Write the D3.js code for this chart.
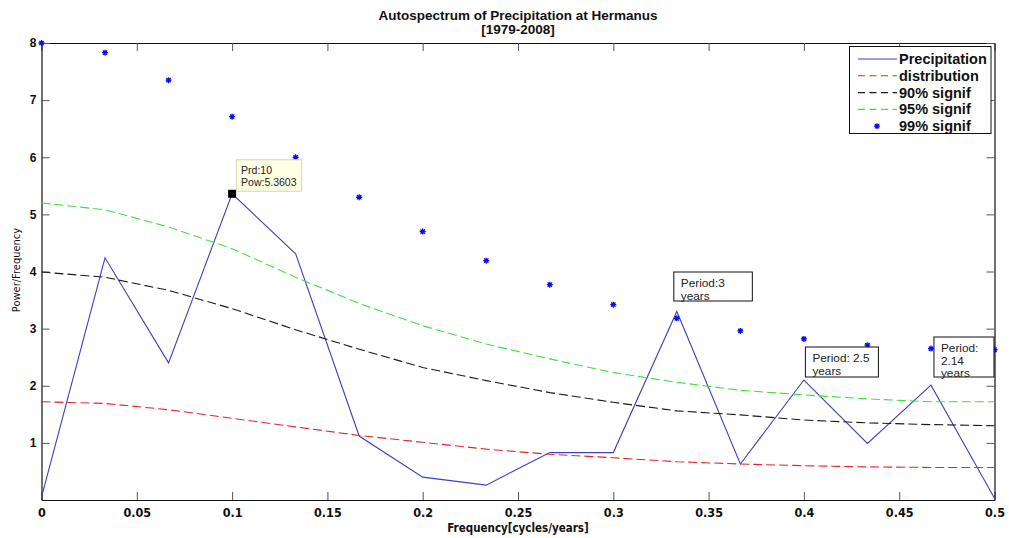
<!DOCTYPE html>
<html>
<head>
<meta charset="utf-8">
<script src="https://cdn.jsdelivr.net/npm/d3@7/dist/d3.min.js"></script>
<style>
  html, body { margin: 0; padding: 0; background: #fff; }
  svg { display: block; }
</style>
</head>
<body>
<svg id="chart" width="1009" height="538"></svg>
<script>
// Frequencies (cycles/year) for a 30-year record: k/30, k = 0..15
const frequency = [0, 1/30, 2/30, 3/30, 4/30, 5/30, 6/30, 7/30, 8/30, 9/30, 10/30, 11/30, 12/30, 13/30, 14/30, 15/30];

// Autospectrum of precipitation
const precipitation = [0.05, 4.24, 2.40, 5.3603, 4.31, 1.12, 0.40, 0.26, 0.83, 0.83, 3.30, 0.63, 2.10, 0.99, 2.01, 0.03];

// Red-noise background and significance levels
const distribution = [1.72, 1.69, 1.58, 1.43, 1.28, 1.13, 1.01, 0.89, 0.80, 0.74, 0.67, 0.63, 0.60, 0.58, 0.57, 0.57];
const signif90 = [3.99, 3.90, 3.67, 3.35, 2.98, 2.64, 2.32, 2.09, 1.88, 1.71, 1.56, 1.49, 1.40, 1.35, 1.32, 1.30];
const signif95 = [5.20, 5.08, 4.78, 4.40, 3.90, 3.44, 3.05, 2.73, 2.47, 2.23, 2.06, 1.92, 1.84, 1.77, 1.72, 1.72];
const signif99 = [8.00, 7.83, 7.35, 6.71, 6.00, 5.30, 4.70, 4.19, 3.77, 3.42, 3.18, 2.96, 2.82, 2.71, 2.65, 2.63];

// Axis ticks
const xTicks = [0, 0.05, 0.1, 0.15, 0.2, 0.25, 0.3, 0.35, 0.4, 0.45, 0.5];
const yTicks = [1, 2, 3, 4, 5, 6, 7, 8];

// Legend entries
const legendLabels = ["Precipitation", "distribution", "90% signif", "95% signif", "99% signif"];

// Annotated peaks
const peakTexts = [
  { k: 10, lines: ["Period:3", "years"] },
  { k: 12, lines: ["Period: 2.5", "years"] },
  { k: 14, lines: ["Period:", "2.14", "years"] }
];
const dataTipIndex = 3;

const SANS = '"Liberation Sans", Arial, Helvetica, sans-serif';
const NARROW = '"Liberation Sans Narrow", "DejaVu Sans Condensed", "Liberation Sans", sans-serif';

const svg = d3.select("#chart");
const L = 41.5, R = 994.5, T = 43, B = 500;

const x = d3.scaleLinear().domain([0, 0.5]).range([L, R]);
const y = d3.scaleLinear().domain([0, 8]).range([B, T]);

const colors = {
  precip: "#4040c0",
  dist: "#e02828",
  s90: "#1a1a1a",
  s95: "#3ee03e",
  s99: "#0a0aee"
};

// Title
const title = svg.append("g").attr("font-family", SANS)
  .attr("font-size", 13.5).attr("font-weight", "bold").attr("fill", "#111")
  .attr("text-anchor", "middle");
title.append("text").attr("x", (L + R) / 2).attr("y", 20).text("Autospectrum of Precipitation at Hermanus");
title.append("text").attr("x", (L + R) / 2).attr("y", 34).text("[1979-2008]");

// Axes with inward ticks on all four sides (box on)
const tickLen = 8;
const axB = svg.append("g").attr("transform", `translate(0,${B})`)
  .call(d3.axisBottom(x).tickValues(xTicks).tickSizeInner(-tickLen).tickSizeOuter(0).tickPadding(10)
    .tickFormat(d => d3.format("")(+d.toFixed(2))));
const axT = svg.append("g").attr("transform", `translate(0,${T})`)
  .call(d3.axisTop(x).tickValues(xTicks).tickSizeInner(-tickLen).tickSizeOuter(0).tickFormat(""));
const axL = svg.append("g").attr("transform", `translate(${L},0)`)
  .call(d3.axisLeft(y).tickValues(yTicks).tickSizeInner(-tickLen).tickSizeOuter(0).tickPadding(5));
const axR = svg.append("g").attr("transform", `translate(${R},0)`)
  .call(d3.axisRight(y).tickValues(yTicks).tickSizeInner(-tickLen).tickSizeOuter(0).tickFormat(""));

[axB, axT, axL, axR].forEach(g => {
  g.select(".domain").attr("stroke", "#111").attr("stroke-width", 1.2);
  g.selectAll(".tick line").attr("stroke", "#555").attr("stroke-width", 1);
});
axB.attr("font-family", NARROW).attr("font-size", 12.5);
axB.selectAll(".tick text").attr("font-weight", "bold").attr("fill", "#111").attr("dy", "0.55em");
axL.attr("font-family", SANS).attr("font-size", 12);
axL.selectAll(".tick text").attr("font-weight", "bold").attr("fill", "#111");

// Axis titles
svg.append("text").attr("font-family", NARROW).attr("x", (L + R) / 2).attr("y", 532)
  .attr("text-anchor", "middle").attr("font-size", 11.5).attr("font-weight", "bold").attr("fill", "#111")
  .text("Frequency[cycles/years]");
svg.append("text").attr("font-family", NARROW)
  .attr("transform", `translate(20,270) rotate(-90)`)
  .attr("text-anchor", "middle").attr("font-size", 11).attr("fill", "#111")
  .text("Power/Frequency");

// Series lines
const plot = svg.append("g");
const lineGen = vals => d3.line().x((d, i) => x(frequency[i])).y(d => y(d))(vals);

plot.append("path").attr("d", lineGen(precipitation)).attr("fill", "none")
  .attr("stroke", colors.precip).attr("stroke-width", 1.1);
[[distribution, colors.dist], [signif90, colors.s90], [signif95, colors.s95]].forEach(([vals, c]) => {
  plot.append("path").attr("d", lineGen(vals)).attr("fill", "none")
    .attr("stroke", c).attr("stroke-width", 1.1).attr("stroke-dasharray", "9,4");
});

// '*' marker: a plus and a cross overlaid
const starSymbol = {
  draw(ctx, size) {
    const r = Math.sqrt(size) / 2;
    const d = r * 0.72;
    ctx.moveTo(-r, 0); ctx.lineTo(r, 0);
    ctx.moveTo(0, -r); ctx.lineTo(0, r);
    ctx.moveTo(-d, -d); ctx.lineTo(d, d);
    ctx.moveTo(-d, d); ctx.lineTo(d, -d);
  }
};
const star = d3.symbol().type(starSymbol).size(36);
plot.selectAll(".s99").data(signif99).join("path")
  .attr("class", "s99")
  .attr("transform", (d, i) => `translate(${x(frequency[i])},${y(d)})`)
  .attr("d", star).attr("fill", "none").attr("stroke", colors.s99).attr("stroke-width", 1.3);

// Data tip on the dominant peak
const tipX = x(frequency[dataTipIndex]), tipY = y(precipitation[dataTipIndex]);
plot.append("rect").attr("x", tipX - 4).attr("y", tipY - 4).attr("width", 8).attr("height", 8).attr("fill", "#000");
const tip = svg.append("g").attr("font-family", SANS);
tip.append("rect").attr("x", tipX + 4.5).attr("y", tipY - 34).attr("width", 65).attr("height", 31.5)
  .attr("fill", "#ffffe4").attr("stroke", "#d4d4c0").attr("stroke-width", 1);
tip.append("text").attr("x", tipX + 9).attr("y", tipY - 20).attr("font-size", 10.5).attr("fill", "#222")
  .text("Prd:10");
tip.append("text").attr("x", tipX + 9).attr("y", tipY - 8).attr("font-size", 10.5).attr("fill", "#222")
  .text("Pow:" + precipitation[dataTipIndex].toFixed(4));

// Period annotations above the secondary peaks
const boxes = [
  { dx: -3, top: 272, w: 78.5, h: 29 },
  { dx: 1.5, top: 347, w: 73, h: 30 },
  { dx: 3, top: 337, w: 60, h: 40 }
];
peakTexts.forEach((p, j) => {
  const b = boxes[j];
  const bx = x(frequency[p.k]) + b.dx;
  const g = svg.append("g").attr("font-family", SANS);
  g.append("rect").attr("x", bx).attr("y", b.top).attr("width", b.w).attr("height", b.h)
    .attr("fill", "#fff").attr("stroke", "#111").attr("stroke-width", 1);
  p.lines.forEach((t, li) => {
    g.append("text").attr("x", bx + 7).attr("y", b.top + 15 + li * 12.6)
      .attr("font-size", 11.8).attr("fill", "#222").text(t);
  });
});

// Legend
const lg = svg.append("g").attr("font-family", SANS);
lg.append("rect").attr("x", 849.5).attr("y", 46.5).attr("width", 141.5).attr("height", 87)
  .attr("fill", "#fff").attr("stroke", "#111").attr("stroke-width", 1);
const legendStyles = [
  { c: colors.precip, dash: null },
  { c: colors.dist, dash: "7,4.5" },
  { c: colors.s90, dash: "7,4.5" },
  { c: colors.s95, dash: "7,4.5" },
  { c: colors.s99, star: true }
];
legendLabels.forEach((lab, i) => {
  const cy = 59 + i * 16.8;
  const st = legendStyles[i];
  if (st.star) {
    lg.append("path").attr("transform", `translate(877,${cy})`).attr("d", star)
      .attr("fill", "none").attr("stroke", st.c).attr("stroke-width", 1.3);
  } else {
    lg.append("line").attr("x1", 858).attr("x2", 897).attr("y1", cy).attr("y2", cy)
      .attr("stroke", st.c).attr("stroke-width", 1.1).attr("stroke-dasharray", st.dash);
  }
  lg.append("text").attr("x", 899).attr("y", cy + 5).attr("font-size", 14.5).attr("font-weight", "bold")
    .attr("fill", "#111").text(lab);
});
</script>
</body>
</html>
